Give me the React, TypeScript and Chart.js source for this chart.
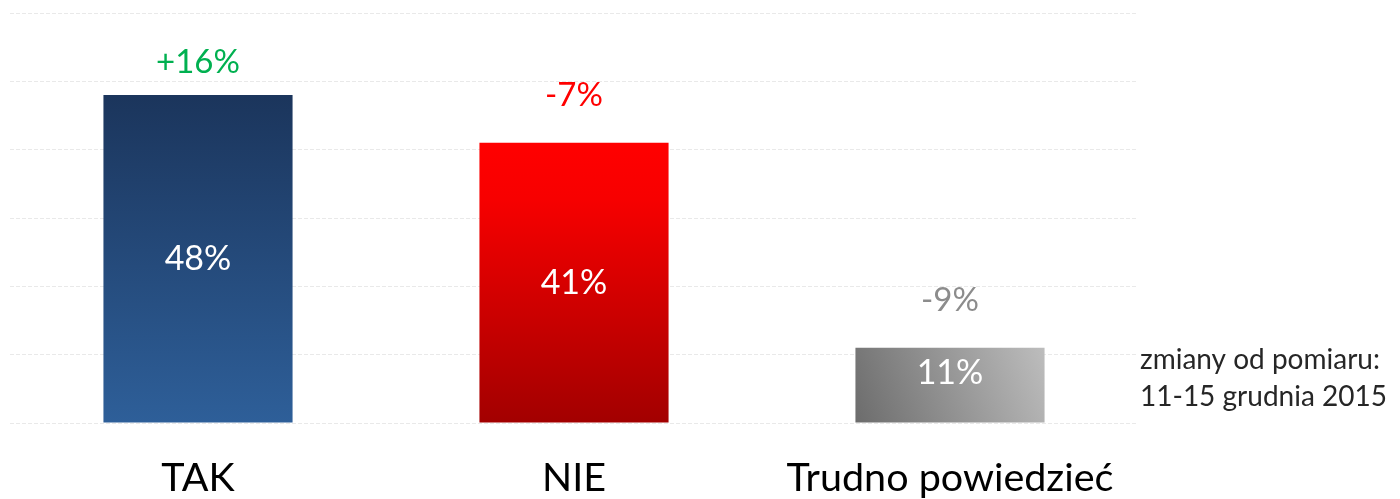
import React, { useEffect, useRef } from "react";
import { Chart, registerables } from "chart.js";

Chart.register(...registerables);

const categories = ["TAK", "NIE", "Trudno powiedzieć"];
const values = [48, 41, 11];
const changes = ["+16%", "-7%", "-9%"];
const changeColors = ["#00b050", "#ff0000", "#8c8c8c"];
const noteLines = ["zmiany od pomiaru:", "11-15 grudnia 2015"];
const yMax = 60;
const yStep = 10;

const FONT = "Lato, 'Open Sans', sans-serif";
const BAR_PCT = 0.503;
const fallbackColors = ["#26497a", "#d00000", "#959595"];

function barBox(chart: any, i: number) {
  const xs = chart.scales.x;
  const ys = chart.scales.y;
  const cx = xs.getPixelForValue(i);
  const half = (xs.width / categories.length) * BAR_PCT / 2;
  return {
    left: cx - half,
    right: cx + half,
    top: ys.getPixelForValue(values[i]),
    bottom: ys.getPixelForValue(0),
  };
}

function barColor(ctx: any) {
  const i = ctx.dataIndex;
  const chart = ctx.chart;
  if (i === undefined || !chart.chartArea || !chart.scales.x || !chart.scales.y) {
    return fallbackColors[i ?? 0];
  }
  const c = chart.ctx as CanvasRenderingContext2D;
  const b = barBox(chart, i);
  if (i === 0) {
    const g = c.createLinearGradient(0, b.top, 0, b.bottom);
    g.addColorStop(0, "#1b355c");
    g.addColorStop(1, "#2e5f99");
    return g;
  }
  if (i === 1) {
    const g = c.createLinearGradient(0, b.top, 0, b.bottom);
    g.addColorStop(0, "#ff0000");
    g.addColorStop(0.2, "#f70000");
    g.addColorStop(1, "#a20000");
    return g;
  }
  const g = c.createLinearGradient(b.left, b.bottom, b.right, b.top);
  g.addColorStop(0, "#6c6c6c");
  g.addColorStop(1, "#bdbdbd");
  return g;
}

const labelsPlugin = {
  id: "labelsPlugin",
  afterDatasetsDraw(chart: any) {
    const c = chart.ctx as CanvasRenderingContext2D;
    const area = chart.chartArea;
    c.save();
    c.textAlign = "center";
    c.textBaseline = "middle";
    values.forEach((v, i) => {
      const b = barBox(chart, i);
      const cx = (b.left + b.right) / 2;
      // value inside bar
      c.font = `34px ${FONT}`;
      c.fillStyle = "#ffffff";
      const mid = Math.min((b.top + b.bottom) / 2, b.bottom - 50);
      c.fillText(`${v}%`, cx, mid);
      // change label above bar
      c.font = `33px ${FONT}`;
      c.fillStyle = changeColors[i];
      const y = Math.max(b.top - 47, area.top + 49);
      c.fillText(changes[i], cx, y);
    });
    // note on the right
    c.textAlign = "left";
    c.textBaseline = "alphabetic";
    c.font = `28px ${FONT}`;
    c.fillStyle = "#262626";
    noteLines.forEach((t, k) => {
      c.fillText(t, area.right + 2, 369 + k * 37);
    });
    c.restore();
  },
};

export default function App() {
  const ref = useRef<HTMLCanvasElement | null>(null);
  useEffect(() => {
    if (!ref.current) return;
    const chart = new Chart(ref.current, {
      type: "bar",
      data: {
        labels: categories,
        datasets: [
          {
            data: values,
            backgroundColor: barColor as any,
            borderWidth: 0,
            barPercentage: BAR_PCT,
            categoryPercentage: 1,
          },
        ],
      },
      options: {
        animation: false,
        responsive: false,
        events: [],
        layout: { padding: { left: 10, right: 262, top: 13, bottom: 0 } },
        plugins: {
          legend: { display: false },
          tooltip: { enabled: false },
          title: { display: false },
        },
        scales: {
          x: {
            grid: { display: false, drawTicks: false },
            border: { display: false },
            ticks: {
              color: "#000000",
              font: { family: FONT, size: 39.5 },
              padding: 32,
              maxRotation: 0,
              autoSkip: false,
            },
            afterFit: (scale: any) => {
              scale.height = 76;
            },
          },
          y: {
            min: 0,
            max: yMax,
            grid: {
              color: "#e9e9e9",
              lineWidth: 1,
              drawTicks: false,
            },
            border: { display: false, dash: [4, 2] },
            ticks: { display: false, stepSize: yStep },
          },
        },
      },
      plugins: [labelsPlugin],
    });
    return () => chart.destroy();
  }, []);
  return (
    <div style={{ position: "absolute", left: 0, top: 0, width: 1400, height: 499 }}>
      <canvas ref={ref} width={1400} height={499} style={{ display: "block" }} />
    </div>
  );
}
